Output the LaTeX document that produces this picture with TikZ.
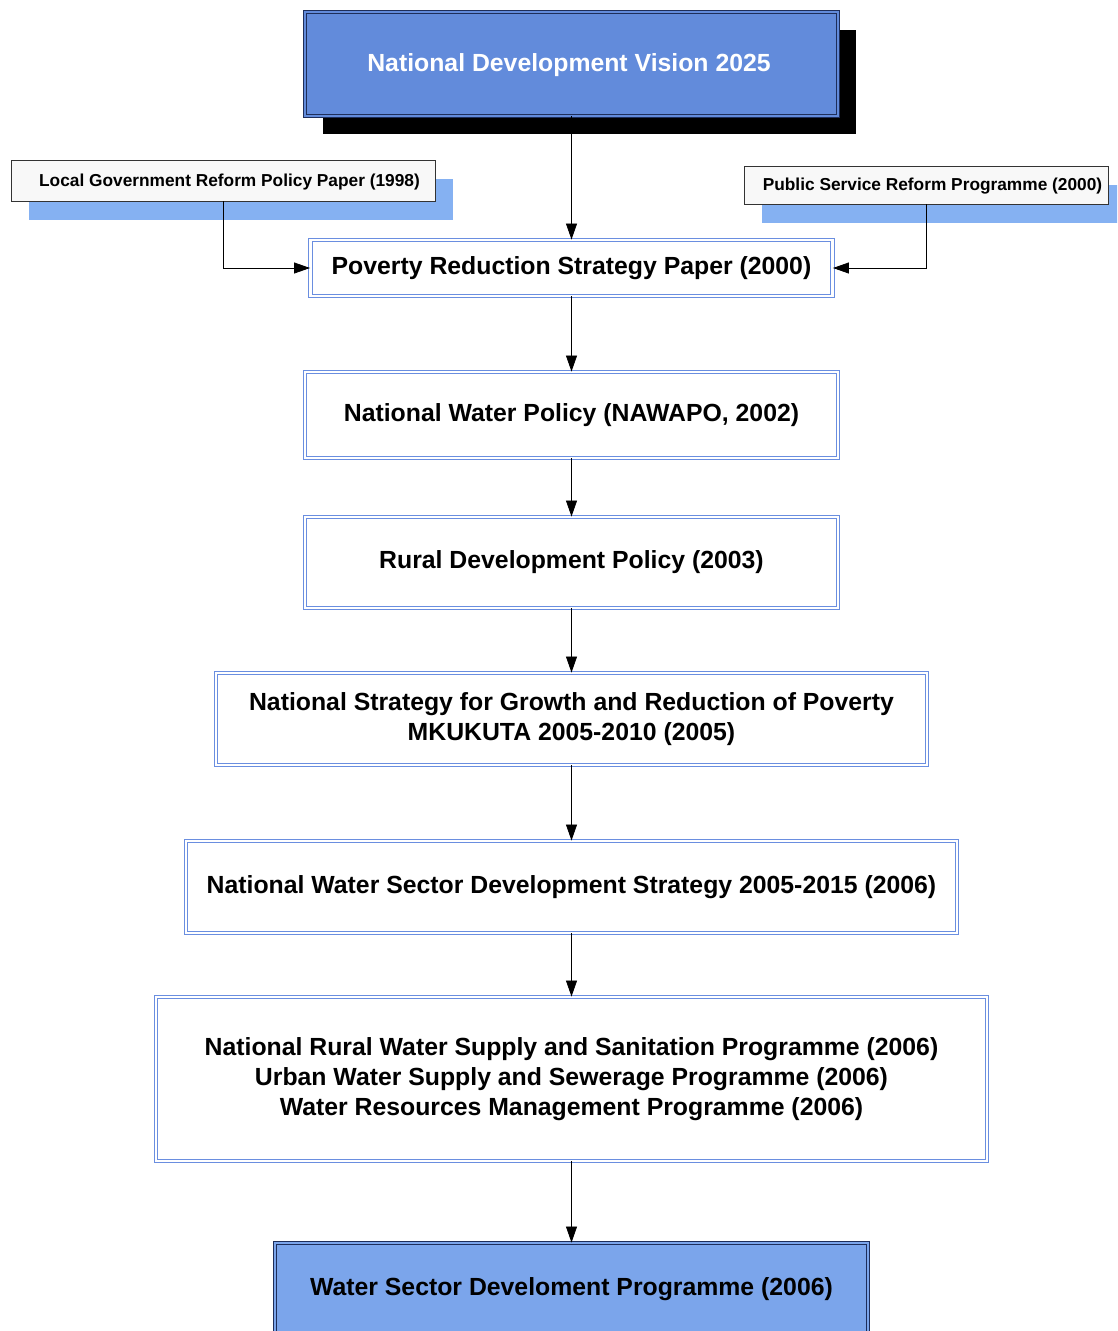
\documentclass[tikz,border=0pt]{standalone}
\usepackage{fontspec}
\setmainfont{Liberation Sans}
\usetikzlibrary{arrows.meta,shadows}
\definecolor{topfill}{HTML}{628BDB}
\definecolor{botfill}{HTML}{7BA5EB}
\definecolor{dblue}{HTML}{6A8EE0}
\definecolor{navy}{HTML}{1E2E5A}
\definecolor{lightsh}{HTML}{85B1F2}
\definecolor{smallfill}{HTML}{F8F8F8}
\begin{document}
\begin{tikzpicture}[x=1pt,y=-1pt,
  font=\bfseries\fontsize{24.8}{30.3}\selectfont,
  box/.style={draw=dblue, double=white, double distance=2.6pt, line width=0.9pt, inner sep=0pt, align=center, fill=white},
  darkbox/.style={draw=navy, double distance=2.6pt, line width=0.9pt, inner sep=0pt, align=center},
  smallbox/.style={draw=black!80, fill=smallfill, line width=0.8pt, inner sep=0pt,
    drop shadow={shadow xshift=17.5pt, shadow yshift=-18.5pt, fill=lightsh, opacity=1}},
  smalltext/.style={font=\bfseries\fontsize{17.3}{20}\selectfont, inner sep=0pt},
  arr/.style={draw=black, line width=0.8pt, -{Triangle[length=16pt,width=11pt]}}
]
\useasboundingbox (0,0) rectangle (1117,1331);
\clip (0,0) rectangle (1117,1331);

% top box
\node[darkbox, double=topfill, fill=topfill, text=white,
  minimum width=533pt, minimum height=104pt,
  drop shadow={shadow xshift=17.5pt, shadow yshift=-18pt, fill=black, opacity=1}]
  (ndv) at (571.5,64) {};
\node[text=white, inner sep=0pt] (ndvt) at (569,65.5) {National Development Vision 2025};

% side boxes
\node[smallbox, minimum width=424pt, minimum height=41pt] (lg) at (223,180.5) {};
\node[smalltext] (lgt) at (229.5,182) {Local Government Reform Policy Paper (1998)};
\node[smallbox, minimum width=364pt, minimum height=38pt] (ps) at (926,185) {};
\node[smalltext] (pst) at (932.5,186) {Public Service Reform Programme (2000)};

% main chain
\node[box, minimum width=522pt, minimum height=56pt] (prsp) at (571.5,268) {Poverty Reduction Strategy Paper (2000)};
\node[box, minimum width=533pt, minimum height=86pt] (nawapo) at (571.5,415) {National Water Policy (NAWAPO, 2002)};
\node[box, minimum width=533pt, minimum height=91pt] (rdp) at (571.5,562.5) {Rural Development Policy (2003)};
\node[box, minimum width=711pt, minimum height=92pt] (nsgrp) at (571.5,719) {National Strategy for Growth and Reduction of Poverty\\MKUKUTA 2005-2010 (2005)};
\node[box, minimum width=771pt, minimum height=92pt] (nwsds) at (571.5,887) {National Water Sector Development Strategy 2005-2015 (2006)};
\node[box, minimum width=831pt, minimum height=164pt] (prog) at (571.5,1079) {National Rural Water Supply and Sanitation Programme (2006)\\Urban Water Supply and Sewerage Programme (2006)\\Water Resources Management Programme (2006)};
\node[darkbox, double=botfill, fill=botfill, minimum width=593pt, minimum height=92pt] (wsdp) at (571.5,1289) {Water Sector Develoment Programme (2006)};

% connectors
\draw[arr] (ndv.south) -- (prsp.north);
\draw[arr] (lg.south) |- (prsp.west);
\draw[arr] (ps.south) |- (prsp.east);
\draw[arr] (prsp.south) -- (nawapo.north);
\draw[arr] (nawapo.south) -- (rdp.north);
\draw[arr] (rdp.south) -- (nsgrp.north);
\draw[arr] (nsgrp.south) -- (nwsds.north);
\draw[arr] (nwsds.south) -- (prog.north);
\draw[arr] (prog.south) -- (wsdp.north);
\end{tikzpicture}
\end{document}
